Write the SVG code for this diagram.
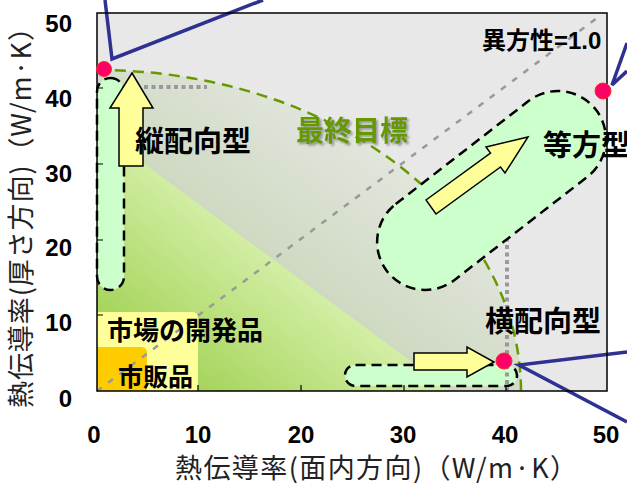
<svg xmlns="http://www.w3.org/2000/svg" width="627" height="483" viewBox="0 0 627 483">
<defs>
<style>
.lbl{font-family:"Liberation Sans","Noto Sans CJK JP",sans-serif;font-weight:bold;fill:#000}
.tick{font-family:"Liberation Sans",sans-serif;font-weight:bold;font-size:24px;fill:#000}
.ttl{font-family:"Noto Sans CJK JP",sans-serif;font-size:27px;fill:#222}
.cap{fill:#ccffcc;stroke:#000;stroke-width:2.5;stroke-dasharray:10 6}
.arr{fill:#ffff99;stroke:#000;stroke-width:1.5;stroke-linejoin:miter}
.dot{fill:#ff0066;stroke:#ff2a2a;stroke-width:1}
.blue{fill:none;stroke:#2e3192;stroke-width:3.5;stroke-linejoin:miter}
.gdot{fill:none;stroke:#999;stroke-width:4;stroke-dasharray:4 3.5}
</style>
<linearGradient id="gOut" gradientUnits="userSpaceOnUse" x1="274" y1="260" x2="400" y2="90">
<stop offset="0" stop-color="#cfd9c2"/>
<stop offset="1" stop-color="#e9ebe7"/>
</linearGradient>
<linearGradient id="gTri" gradientUnits="userSpaceOnUse" x1="110" y1="380" x2="230" y2="225">
<stop offset="0" stop-color="#98cc44"/>
<stop offset="1" stop-color="#d2eea4"/>
</linearGradient>
<filter id="sh" x="-10%" y="-20%" width="130%" height="150%">
<feDropShadow dx="2" dy="2" stdDeviation="1" flood-color="#777" flood-opacity="0.7"/>
</filter>
</defs>
<rect width="627" height="483" fill="#fff"/>
<g id="plot">
<rect x="97" y="13" width="510" height="378" fill="#e8e8e8"/>
<path d="M97,391 L97,70 A424,321 0 0 1 521,391 Z" fill="url(#gOut)"/>
<path d="M97,129 L451,391 L97,391 Z" fill="url(#gTri)"/>
<path d="M97,312 H192 Q198,312 198,318 V391 H97 Z" fill="#ffff99"/>
<path d="M97,347 H141 Q147,347 147,353 V391 H97 Z" fill="#ffcc00"/>
</g>
<g id="connectors">
<path class="gdot" d="M99,87 H207"/>
<path d="M97,391 L597,18" fill="none" stroke="#999" stroke-width="2.5" stroke-dasharray="6 8"/>
<path d="M97,70 A424,321 0 0 1 521,391" fill="none" stroke="#669900" stroke-width="2.5" stroke-dasharray="11 7"/>
<polyline class="blue" points="105,0 112,59 263,0"/>
<polyline class="blue" points="627,43 612,85 627,71"/>
<polyline class="blue" points="627,352 519,365 627,422"/>
</g>
<g id="node-vertical">
<rect class="cap" x="97" y="78" width="27" height="212" rx="13.5"/>
</g>
<g id="node-horizontal">
<rect class="cap" x="345" y="365" width="172" height="21" rx="10.5"/>
</g>
<path class="gdot" d="M507,200 V391"/>
<g id="node-isotropic">
<rect class="cap" x="359.5" y="142.5" width="264" height="96" rx="48" transform="rotate(-37.8 491.5 190.5)"/>
</g>
<g id="frame">
<path d="M97,13 H607 V391 H97 Z" fill="none" stroke="#000" stroke-width="1.5"/>
<path d="M97,164 h6 M97,240 h6 M97,315 h6 M97,88 h6 M198,391 v-6 M301,391 v-6 M404,391 v-6 M506,391 v-6" stroke="#000" stroke-width="1.2"/>
</g>
<g id="arrows">
<polygon class="arr" points="132,73 153,108 143,108 143,166 119,166 119,108 110,108"/>
<polygon class="arr" points="414,353 467,353 467,347 494,362 467,377 467,370 414,370"/>
<polygon class="arr" points="426,200 490.5,153 486,147 528,137 505,173 500.5,167 436,214"/>
</g>
<g id="points">
<circle class="dot" cx="104" cy="69" r="7.5"/>
<circle class="dot" cx="603" cy="91" r="8"/>
<circle class="dot" cx="504" cy="361" r="8"/>
</g>
<g id="labels">
<text class="lbl" x="135" y="152" font-size="29">縦配向型</text>
<text class="lbl" x="296" y="141" font-size="28" style="fill:#669900" filter="url(#sh)">最終目標</text>
<text class="lbl" x="543" y="156" font-size="29">等方型</text>
<text class="lbl" x="482" y="49" font-size="24">異方性=1.0</text>
<text class="lbl" x="485" y="332" font-size="29">横配向型</text>
<text class="lbl" x="107" y="340" font-size="26">市場の開発品</text>
<text class="lbl" x="118" y="386" font-size="25">市販品</text>
</g>
<g id="axes">
<g class="tick" text-anchor="end">
<text x="72" y="32">50</text>
<text x="72" y="107">40</text>
<text x="72" y="182">30</text>
<text x="72" y="256">20</text>
<text x="72" y="331">10</text>
<text x="72" y="407">0</text>
</g>
<g class="tick" text-anchor="middle">
<text x="94" y="443">0</text>
<text x="198" y="443">10</text>
<text x="301" y="443">20</text>
<text x="403" y="443">30</text>
<text x="505" y="443">40</text>
<text x="606" y="443">50</text>
</g>
<text class="ttl" x="175" y="478" textLength="402" lengthAdjust="spacing">熱伝導率(面内方向)（W/m·K）</text>
<text class="ttl" transform="translate(31,408) rotate(-90)" textLength="394" lengthAdjust="spacing">熱伝導率(厚さ方向)（W/m·K）</text>
</g>
</svg>
